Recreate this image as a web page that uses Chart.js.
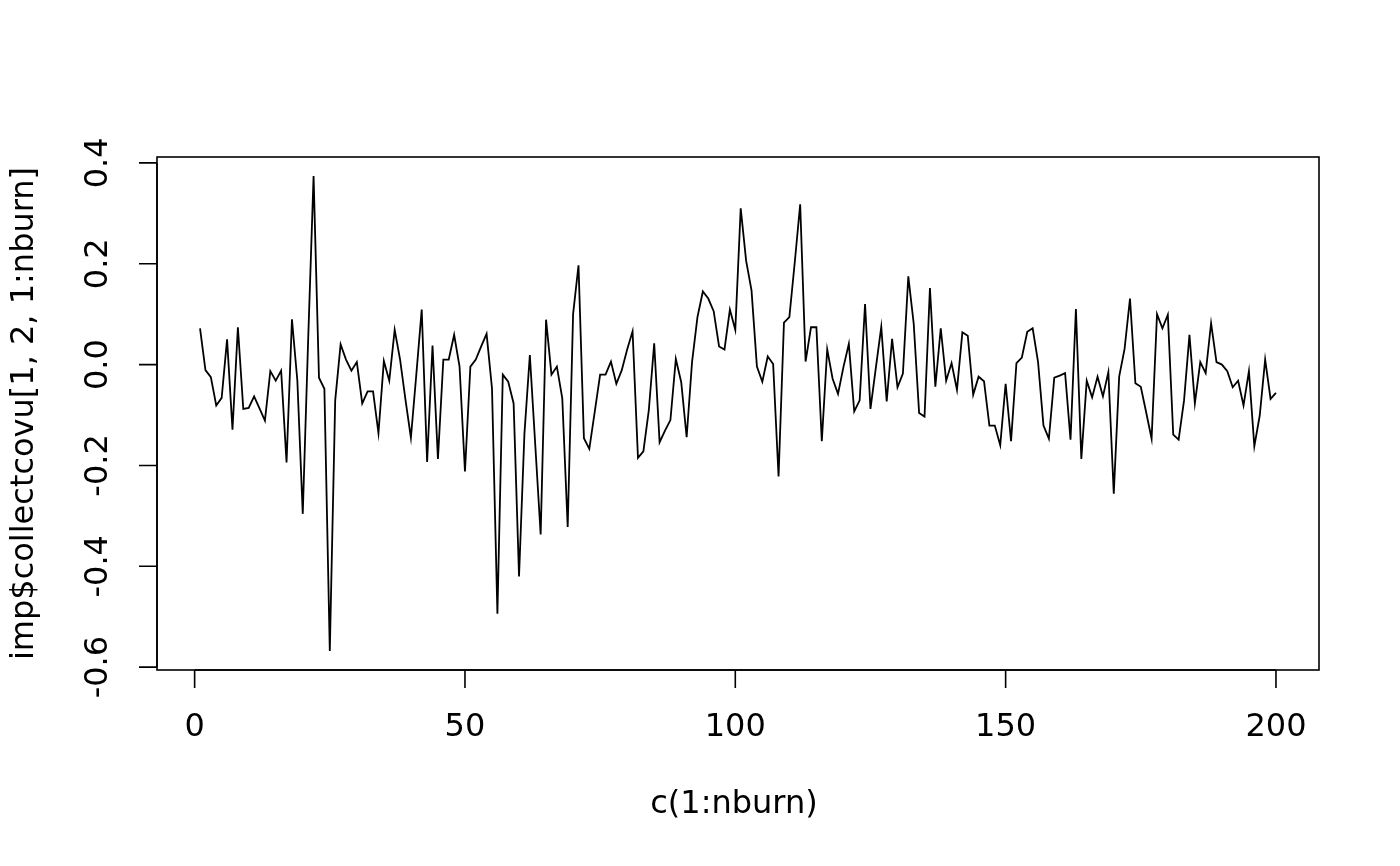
<!DOCTYPE html>
<html lang="en">
<head>
    <meta charset="UTF-8">
    <title>imp$collectcovu trace</title>
    <script src="https://cdn.jsdelivr.net/npm/chart.js@4"></script>
    <style>
        body { margin: 0; padding: 0; background: #fff; }
        #wrap { width: 1400px; height: 866px; }
    </style>
</head>
<body>
    <div id="wrap"><canvas id="traceChart" width="1400" height="866"></canvas></div>

    <script>
        // values, iterations 1..200
        const covValues = [
            0.072, -0.011, -0.025, -0.081, -0.066, 0.050, -0.129, 0.074, -0.088, -0.086,
            -0.063, -0.087, -0.111, -0.013, -0.032, -0.012, -0.194, 0.090, -0.032, -0.296,
            0.050, 0.374, -0.026, -0.048, -0.568, -0.071, 0.040, 0.010, -0.012, 0.005,
            -0.077, -0.053, -0.053, -0.136, 0.007, -0.032, 0.069, 0.010, -0.070, -0.145,
            -0.020, 0.109, -0.193, 0.038, -0.187, 0.010, 0.010, 0.059, -0.004, -0.212,
            -0.004, 0.010, 0.036, 0.061, -0.047, -0.494, -0.020, -0.034, -0.077, -0.420,
            -0.137, 0.019, -0.159, -0.337, 0.089, -0.020, -0.004, -0.067, -0.322, 0.100,
            0.197, -0.146, -0.167, -0.094, -0.020, -0.020, 0.006, -0.038, -0.011, 0.030,
            0.066, -0.185, -0.172, -0.091, 0.042, -0.154, -0.131, -0.110, 0.011, -0.035,
            -0.144, 0.005, 0.094, 0.145, 0.131, 0.106, 0.036, 0.030, 0.109, 0.069,
            0.310, 0.206, 0.147, -0.004, -0.034, 0.016, 0.001, -0.222, 0.083, 0.094,
            0.203, 0.318, 0.006, 0.074, 0.074, -0.152, 0.030, -0.028, -0.058, -0.005,
            0.041, -0.093, -0.071, 0.120, -0.088, -0.006, 0.075, -0.073, 0.051, -0.045,
            -0.018, 0.175, 0.081, -0.096, -0.103, 0.152, -0.044, 0.072, -0.032, 0.003,
            -0.050, 0.064, 0.057, -0.060, -0.024, -0.033, -0.121, -0.121, -0.160, -0.038,
            -0.152, 0.003, 0.014, 0.065, 0.072, 0.005, -0.121, -0.147, -0.026, -0.022,
            -0.017, -0.149, 0.110, -0.187, -0.032, -0.065, -0.024, -0.063, -0.015, -0.256,
            -0.024, 0.031, 0.131, -0.037, -0.044, -0.095, -0.147, 0.100, 0.072, 0.099,
            -0.139, -0.149, -0.071, 0.059, -0.077, 0.005, -0.017, 0.082, 0.005, 0.000,
            -0.013, -0.045, -0.032, -0.081, -0.013, -0.162, -0.101, 0.010, -0.068, -0.056
        ];
        // x is just c(1:nburn)
        const iterations = covValues.map((v, i) => i + 1);

        const xTicks = [0, 50, 100, 150, 200];
        const yTicks = [-0.6, -0.4, -0.2, 0.0, 0.2, 0.4];
        const yTickLabels = ["-0.6", "-0.4", "-0.2", "0.0", "0.2", "0.4"];
        const xTitle = "c(1:nburn)";
        const yTitle = "imp$collectcovu[1, 2, 1:nburn]";

        // R pads the data range by 4% on each side
        function padRange(arr) {
            const lo = Math.min(...arr), hi = Math.max(...arr);
            const d = (hi - lo) * 0.04;
            return [lo - d, hi + d];
        }
        const [xMin, xMax] = padRange(iterations);
        const [yMin, yMax] = padRange(covValues);

        const FONT = "32px 'DejaVu Sans', sans-serif";

        // box, tick marks and labels in base-graphics style
        const rAxes = {
            id: "rAxes",
            afterDraw(chart) {
                const { ctx, chartArea: a, scales } = chart;
                const x = scales.x, y = scales.y;
                ctx.save();
                ctx.strokeStyle = "#000";
                ctx.fillStyle = "#000";
                ctx.lineWidth = 1.6;
                ctx.strokeRect(a.left, a.top, a.right - a.left, a.bottom - a.top);

                ctx.font = FONT;
                // x axis
                ctx.beginPath();
                ctx.moveTo(x.getPixelForValue(xTicks[0]), a.bottom);
                ctx.lineTo(x.getPixelForValue(xTicks[xTicks.length - 1]), a.bottom);
                xTicks.forEach(t => {
                    const px = x.getPixelForValue(t);
                    ctx.moveTo(px, a.bottom);
                    ctx.lineTo(px, a.bottom + 18);
                });
                ctx.stroke();
                ctx.textAlign = "center";
                ctx.textBaseline = "middle";
                xTicks.forEach(t => {
                    ctx.fillText(String(t), x.getPixelForValue(t), a.bottom + 58);
                });
                ctx.fillText(xTitle, (a.left + a.right) / 2 - 4, a.bottom + 135);

                // y axis
                ctx.beginPath();
                ctx.moveTo(a.left, y.getPixelForValue(yTicks[0]));
                ctx.lineTo(a.left, y.getPixelForValue(yTicks[yTicks.length - 1]));
                yTicks.forEach(t => {
                    const py = y.getPixelForValue(t);
                    ctx.moveTo(a.left, py);
                    ctx.lineTo(a.left - 18, py);
                });
                ctx.stroke();
                yTicks.forEach((t, i) => {
                    ctx.save();
                    ctx.translate(a.left - 58, y.getPixelForValue(t));
                    ctx.rotate(-Math.PI / 2);
                    ctx.fillText(yTickLabels[i], 0, 0);
                    ctx.restore();
                });
                ctx.save();
                ctx.translate(a.left - 132, (a.top + a.bottom) / 2);
                ctx.rotate(-Math.PI / 2);
                ctx.fillText(yTitle, 0, 0);
                ctx.restore();
                ctx.restore();
            }
        };

        new Chart(document.getElementById("traceChart"), {
            type: "line",
            data: {
                labels: iterations,
                datasets: [{
                    data: iterations.map((it, i) => ({ x: it, y: covValues[i] })),
                    borderColor: "#000",
                    borderWidth: 1.8,
                    pointRadius: 0,
                    tension: 0,
                    fill: false
                }]
            },
            options: {
                responsive: false,
                animation: false,
                layout: { padding: { left: 157, top: 157, right: 81, bottom: 196 } },
                plugins: { legend: { display: false }, tooltip: { enabled: false } },
                scales: {
                    x: { type: "linear", min: xMin, max: xMax, display: false },
                    y: { type: "linear", min: yMin, max: yMax, display: false }
                }
            },
            plugins: [rAxes]
        });
    </script>
</body>
</html>
